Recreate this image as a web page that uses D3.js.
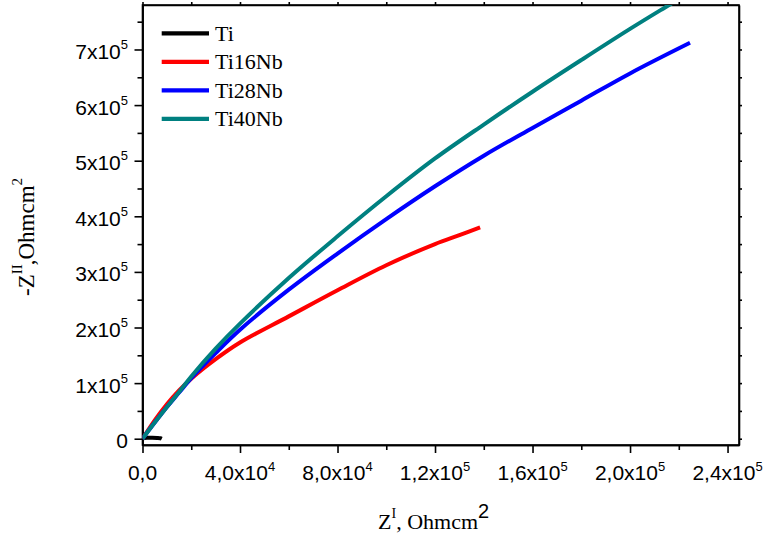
<!DOCTYPE html>
<html>
<head>
<meta charset="utf-8">
<script src="https://cdn.jsdelivr.net/npm/d3@7/dist/d3.min.js"></script>
<style>
  body { margin: 0; background: #fff; }
  svg { display: block; }
</style>
</head>
<body>
<svg id="chart" width="768" height="539"></svg>
<script>
// ---- Data ----
const seriesNames = ["Ti", "Ti16Nb", "Ti28Nb", "Ti40Nb"];
const seriesColors = ["#000000", "#ff0000", "#0000ff", "#008080"];

const tiX   = [0, 600, 2000, 4000, 6000, 7400, 7900];
const tiY   = [0, 1200, 1800, 1800, 1400, 800, 0];

const ti16X = [0, 5000, 10000, 15000, 20000, 30000, 40000, 60000, 80000, 100000, 120000, 130000, 138500];
const ti16Y = [0, 33000, 62000, 87000, 108000, 143000, 173000, 220000, 267000, 312000, 350000, 366000, 380000];

const ti28X = [0, 5000, 10000, 15000, 20000, 30000, 40000, 60000, 80000, 100000, 120000, 140000, 160000, 180000, 200000, 224600];
const ti28Y = [0, 29000, 57000, 83000, 109000, 154000, 196000, 268000, 333000, 395000, 454000, 509000, 559000, 608000, 657000, 712000];

const ti40X = [0, 5000, 10000, 15000, 20000, 30000, 40000, 60000, 80000, 100000, 120000, 140000, 160000, 180000, 200000, 216000, 225000];
const ti40Y = [0, 29000, 57000, 84000, 112000, 162000, 207000, 289000, 364000, 436000, 504000, 565000, 624000, 681000, 737000, 780000, 804000];

const seriesX = [tiX, ti16X, ti28X, ti40X];
const seriesY = [tiY, ti16Y, ti28Y, ti40Y];

const xTickValues = [0, 40000, 80000, 120000, 160000, 200000, 240000];
const xTickMant   = ["0,0", "4,0x10", "8,0x10", "1,2x10", "1,6x10", "2,0x10", "2,4x10"];
const xTickExp    = ["", "4", "4", "5", "5", "5", "5"];
const xMinorValues = [20000, 60000, 100000, 140000, 180000, 220000];

const yTickValues = [0, 100000, 200000, 300000, 400000, 500000, 600000, 700000];
const yTickMant   = ["0", "1x10", "2x10", "3x10", "4x10", "5x10", "6x10", "7x10"];
const yTickExp    = ["", "5", "5", "5", "5", "5", "5", "5"];
const yMinorValues = [50000, 150000, 250000, 350000, 450000, 550000, 650000, 750000];

// ---- Layout ----
const svg = d3.select("#chart");
const L = 142.5, R = 739, T = 5, B = 445;
const x = d3.scaleLinear().domain([0, 244700]).range([L, R]);
const y = d3.scaleLinear().domain([-11300, 780000]).range([B, T]);

const sansFont = "'Liberation Sans', Arial, sans-serif";
const serifFont = "'Liberation Serif', 'Times New Roman', serif";

svg.append("defs").append("clipPath").attr("id", "plotclip")
  .append("rect").attr("x", L).attr("y", T).attr("width", R - L).attr("height", B - T);

// ---- Axes ----
function styleAxis(g) {
  g.selectAll("path.domain").attr("stroke", "#000").attr("stroke-width", 1.6);
  g.selectAll(".tick line").attr("stroke", "#000").attr("stroke-width", 1.6);
  g.selectAll(".tick text").remove();
}

svg.append("g").attr("transform", `translate(0,${B})`)
  .call(d3.axisBottom(x).tickValues(xTickValues).tickSize(8).tickSizeOuter(0).tickFormat(""))
  .call(styleAxis);
svg.append("g").attr("transform", `translate(0,${B})`)
  .call(d3.axisBottom(x).tickValues(xMinorValues).tickSize(5).tickSizeOuter(0).tickFormat(""))
  .call(styleAxis);
svg.append("g").attr("transform", `translate(0,${T})`)
  .call(d3.axisTop(x).tickValues(xTickValues.concat(xMinorValues)).tickSize(3).tickSizeOuter(0).tickFormat(""))
  .call(styleAxis);
svg.append("g").attr("transform", `translate(${L},0)`)
  .call(d3.axisLeft(y).tickValues(yTickValues).tickSize(8).tickSizeOuter(0).tickFormat(""))
  .call(styleAxis);
svg.append("g").attr("transform", `translate(${L},0)`)
  .call(d3.axisLeft(y).tickValues(yMinorValues).tickSize(5).tickSizeOuter(0).tickFormat(""))
  .call(styleAxis);
svg.append("g").attr("transform", `translate(${R},0)`)
  .call(d3.axisRight(y).tickValues(yTickValues.concat(yMinorValues)).tickSize(3).tickSizeOuter(0).tickFormat(""))
  .call(styleAxis);

svg.append("rect").attr("x", L).attr("y", T).attr("width", R - L).attr("height", B - T)
  .attr("fill", "none").attr("stroke", "#000").attr("stroke-width", 1.6);

// ---- Tick labels ----
const xl = svg.append("g").attr("font-family", sansFont).attr("font-size", 21).attr("fill", "#000");
xTickValues.forEach((v, i) => {
  const t = xl.append("text").attr("x", x(v)).attr("y", B + 35).attr("text-anchor", "middle");
  t.append("tspan").text(xTickMant[i]);
  if (xTickExp[i]) t.append("tspan").attr("font-size", 13).attr("dy", -9).text(xTickExp[i]);
});
const yl = svg.append("g").attr("font-family", sansFont).attr("font-size", 21).attr("fill", "#000");
yTickValues.forEach((v, i) => {
  const t = yl.append("text").attr("x", 128).attr("y", y(v) + 9.5).attr("text-anchor", "end");
  t.append("tspan").text(yTickMant[i]);
  if (yTickExp[i]) t.append("tspan").attr("font-size", 13).attr("dy", -10).text(yTickExp[i]);
});

// ---- Axis titles ----
const xt = svg.append("text").attr("x", 378).attr("y", 529).attr("font-family", serifFont)
  .attr("font-size", 22).attr("fill", "#000");
xt.append("tspan").text("Z");
xt.append("tspan").attr("font-size", 14).attr("dy", -11).text("I");
xt.append("tspan").attr("dy", 11).text(", Ohmcm");
xt.append("tspan").attr("font-family", sansFont).attr("font-size", 20).attr("dy", -11).text("2");

const yt = svg.append("text").attr("transform", "translate(34,296) rotate(-90)")
  .attr("font-family", serifFont).attr("font-size", 23).attr("fill", "#000");
yt.append("tspan").text("-Z");
yt.append("tspan").attr("font-size", 15).attr("dy", -12).text("II");
yt.append("tspan").attr("dy", 12).attr("dx", -1).text(",Ohmcm");
yt.append("tspan").attr("font-size", 15).attr("dy", -12).text("2");

// ---- Series ----
const line = d3.line().x(d => x(d[0])).y(d => y(d[1])).curve(d3.curveCatmullRom.alpha(0.5));
const plot = svg.append("g").attr("clip-path", "url(#plotclip)");
seriesNames.forEach((name, i) => {
  const pts = seriesX[i].map((xv, j) => [xv, seriesY[i][j]]);
  plot.append("path").datum(pts).attr("d", line)
    .attr("fill", "none").attr("stroke", seriesColors[i])
    .attr("stroke-width", 4).attr("stroke-linejoin", "round").attr("stroke-linecap", "butt");
});

// ---- Legend ----
const lg = svg.append("g");
seriesNames.forEach((name, i) => {
  const ly = 33.3 + i * 28.5;
  lg.append("line").attr("x1", 161.7).attr("x2", 209).attr("y1", ly).attr("y2", ly)
    .attr("stroke", seriesColors[i]).attr("stroke-width", 4.3);
  lg.append("text").attr("x", 215).attr("y", ly + 7.5).attr("font-family", serifFont)
    .attr("font-size", 22).attr("fill", "#000").text(name);
});
</script>
</body>
</html>
